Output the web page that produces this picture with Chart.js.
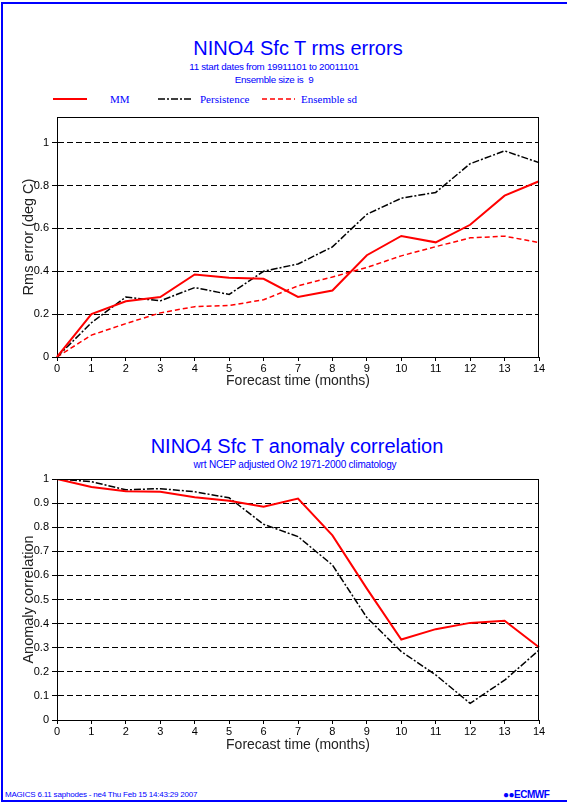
<!DOCTYPE html>
<html>
<head>
<meta charset="utf-8">
<script src="https://cdn.jsdelivr.net/npm/chart.js@4"></script>
<style>
  html, body { margin:0; padding:0; background:#fff; width:567px; height:804px; overflow:hidden; }
  body { position:relative; font-family:"Liberation Sans", Arial, sans-serif; }
  .frame { position:absolute; left:1px; top:2px; width:620px; height:800px; box-sizing:border-box; border:2px solid #0000ff; }
  .t { position:absolute; color:#0000ff; white-space:nowrap; transform:translate(-50%,-50%); }
  canvas { position:absolute; left:0; }
  .leg { position:absolute; color:#0000ff; font-family:"Liberation Serif","Times New Roman",serif; font-size:11px; white-space:nowrap; transform:translateY(-50%); }
  svg.ls { position:absolute; }
</style>
</head>
<body>
<div class="frame"></div>

<div class="t" style="left:298px;top:48px;font-size:20px;">NINO4 Sfc T rms errors</div>
<div class="t" style="left:274px;top:66px;font-size:9.8px;letter-spacing:-0.3px;">11 start dates from 19911101 to 20011101</div>
<div class="t" style="left:274px;top:79px;font-size:9.8px;letter-spacing:-0.3px;">Ensemble size is&nbsp; 9</div>

<svg class="ls" style="left:53px;top:96px" width="35" height="6"><line id="l1" x1="0" y1="3" x2="34" y2="3"/></svg>
<div class="leg" style="left:110px;top:99px;">MM</div>
<svg class="ls" style="left:158px;top:96px" width="35" height="6"><line id="l2" x1="0" y1="3" x2="33" y2="3"/></svg>
<div class="leg" style="left:200px;top:99px;">Persistence</div>
<svg class="ls" style="left:262px;top:96px" width="35" height="6"><line id="l3" x1="0" y1="3" x2="33" y2="3"/></svg>
<div class="leg" style="left:301px;top:99px;">Ensemble sd</div>

<div class="t" style="left:297px;top:446px;font-size:20px;">NINO4 Sfc T anomaly correlation</div>
<div class="t" style="left:295px;top:464px;font-size:10px;letter-spacing:-0.2px;">wrt NCEP adjusted OIv2 1971-2000 climatology</div>

<div style="position:absolute;left:5px;top:794px;transform:translateY(-50%);font-size:8px;color:#0000ff;white-space:nowrap;letter-spacing:-0.2px;">MAGICS 6.11 saphodes - ne4 Thu Feb 15 14:43:29 2007</div>
<div style="position:absolute;left:503px;top:794px;transform:translateY(-50%);font-size:10px;font-weight:bold;color:#0000ff;white-space:nowrap;letter-spacing:-0.5px;">&#9679;&#9679;ECMWF</div>

<canvas id="c1" width="567" height="400" style="top:0px"></canvas>
<canvas id="c2" width="567" height="360" style="top:400px"></canvas>

<script>
// ---------- data ----------
const months = ['0','1','2','3','4','5','6','7','8','9','10','11','12','13','14'];

const rmsMM   = [0, 0.20, 0.26, 0.28, 0.385, 0.37, 0.365, 0.28, 0.31, 0.475, 0.565, 0.535, 0.617, 0.753, 0.82];
const rmsPers = [0, 0.16, 0.28, 0.262, 0.324, 0.292, 0.40, 0.434, 0.514, 0.666, 0.741, 0.768, 0.902, 0.962, 0.907];
const rmsSd   = [0, 0.102, 0.156, 0.206, 0.235, 0.24, 0.267, 0.332, 0.373, 0.418, 0.472, 0.515, 0.556, 0.564, 0.534];

const acMM   = [1, 0.967, 0.949, 0.947, 0.924, 0.91, 0.885, 0.919, 0.766, 0.545, 0.334, 0.377, 0.403, 0.412, 0.302];
const acPers = [1, 0.989, 0.955, 0.96, 0.947, 0.922, 0.812, 0.761, 0.643, 0.425, 0.284, 0.187, 0.069, 0.165, 0.29];

const rmsTicks = [0, 0.2, 0.4, 0.6, 0.8, 1];
const acTicks  = [0, 0.1, 0.2, 0.3, 0.4, 0.5, 0.6, 0.7, 0.8, 0.9, 1];

// ---------- styles ----------
const styleMM   = { borderColor:'#ff0000', borderWidth:2, borderDash:[] };
const stylePers = { borderColor:'#000000', borderWidth:1.5, borderDash:[7,2,2,2] };
const styleSd   = { borderColor:'#ff0000', borderWidth:1.5, borderDash:[5,3] };

function legLine(id, s){
  const el = document.getElementById(id);
  el.setAttribute('stroke', s.borderColor);
  el.setAttribute('stroke-width', s.borderWidth);
  if (s.borderDash.length) el.setAttribute('stroke-dasharray', s.borderDash.join(','));
}
legLine('l1', styleMM); legLine('l2', stylePers); legLine('l3', styleSd);

const FONT = '"Liberation Sans", Arial, sans-serif';

const boxPlugin = {
  id:'box',
  afterDraw(chart){
    const {ctx, chartArea:a} = chart;
    ctx.save();
    ctx.strokeStyle = '#000'; ctx.lineWidth = 1;
    ctx.beginPath();
    ctx.moveTo(a.left, a.top + 0.5); ctx.lineTo(a.right, a.top + 0.5);
    ctx.moveTo(a.right - 0.5, a.top); ctx.lineTo(a.right - 0.5, a.bottom);
    ctx.stroke();
    ctx.restore();
  }
};

function ds(label, data, s){
  return Object.assign({ label, data, pointRadius:0, tension:0, fill:false, borderCapStyle:'butt' }, s);
}

function makeChart(id, datasets, ticks, yMax, yTitle, padTop, xHeight, xTitlePad){
  return new Chart(document.getElementById(id), {
    type:'line',
    data:{ labels:months, datasets },
    plugins:[boxPlugin],
    options:{
      responsive:false, animation:false, devicePixelRatio:1,
      layout:{ padding:{ left:0, right:28, top:padTop, bottom:0 } },
      plugins:{ legend:{display:false}, title:{display:false}, tooltip:{enabled:false} },
      scales:{
        x:{
          offset:false,
          grid:{ drawOnChartArea:false, color:'#000', tickColor:'#000', tickLength:4, lineWidth:1 },
          border:{ color:'#000', width:1 },
          ticks:{ color:'#000', font:{ family:FONT, size:11 }, padding:1, maxRotation:0, autoSkip:false },
          title:{ display:true, text:'Forecast time (months)', color:'#222', font:{ family:FONT, size:14 }, padding:{ top:0, bottom:xTitlePad } },
          afterFit(s){ s.height = xHeight; }
        },
        y:{
          min:0, max:yMax,
          afterBuildTicks(s){ s.ticks = ticks.map(v => ({ value:v })); },
          grid:{ color:'#000', lineWidth:1, tickColor:'#000', tickLength:5, tickBorderDash:[] },
          border:{ color:'#000', width:1, dash:[6,3] },
          ticks:{ color:'#000', font:{ family:FONT, size:11 }, padding:3, callback:v => String(+v.toFixed(2)) },
          title:{ display:true, text:yTitle, color:'#222', font:{ family:FONT, size:14.5 }, padding:{ top:20, bottom:0 } },
          afterFit(s){ s.width = 57; }
        }
      }
    }
  });
}

makeChart('c1', [
  ds('MM', rmsMM, styleMM),
  ds('Persistence', rmsPers, stylePers),
  ds('Ensemble sd', rmsSd, styleSd)
], rmsTicks, 1.12, 'Rms error (deg C)', 117, 43, 10);

makeChart('c2', [
  ds('MM', acMM, styleMM),
  ds('Persistence', acPers, stylePers)
], acTicks, 1, 'Anomaly correlation', 79, 40, 6);
</script>
</body>
</html>
